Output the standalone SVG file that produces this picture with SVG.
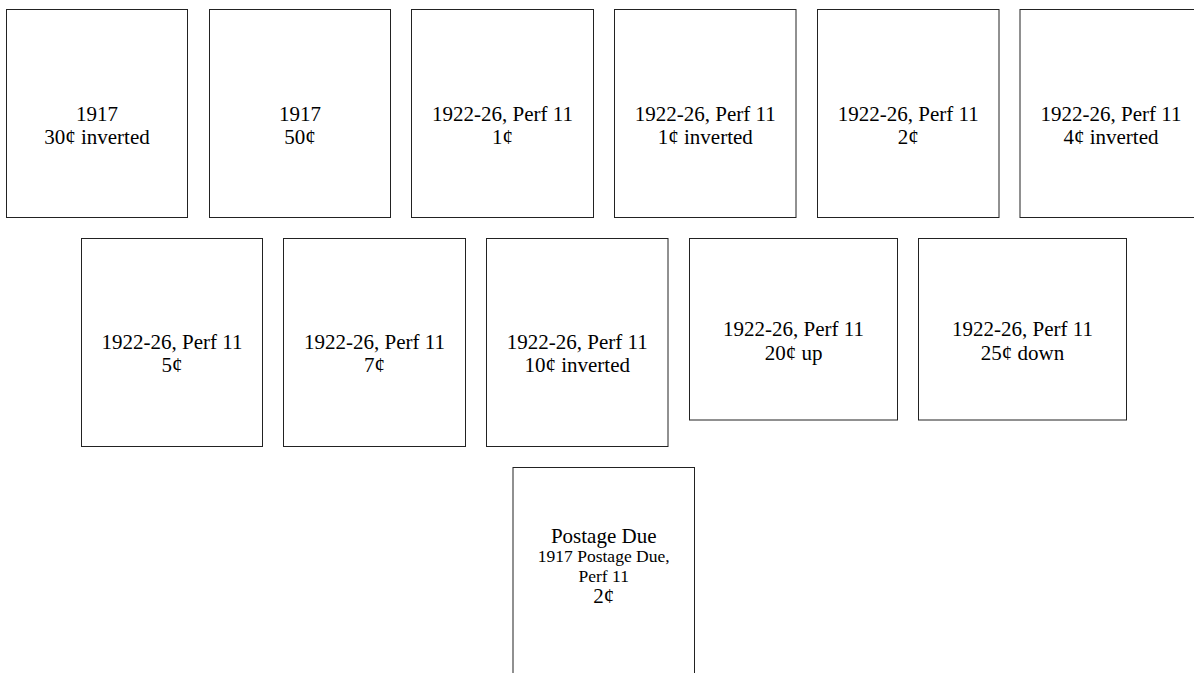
<svg xmlns="http://www.w3.org/2000/svg" width="1194" height="673" viewBox="0 0 1194 673">
<style>
.box{fill:#fff;stroke:#222;stroke-width:1}
text{font-family:"Liberation Serif","Times New Roman",serif;fill:#000;text-anchor:middle}
.t{font-size:21px}
.s{font-size:17.5px}
</style>
<rect width="1194" height="673" fill="#fff"/>
<g id="n1"><rect class="box" x="6.5" y="9.5" width="181" height="208"/><text class="t" x="97" y="120.5">1917</text><text class="t" x="97" y="144">30¢ inverted</text></g>
<g id="n2"><rect class="box" x="209.5" y="9.5" width="181" height="208"/><text class="t" x="300" y="120.5">1917</text><text class="t" x="300" y="144">50¢</text></g>
<g id="n3"><rect class="box" x="411.5" y="9.5" width="182" height="208"/><text class="t" x="502.5" y="120.5">1922-26, Perf 11</text><text class="t" x="502.5" y="144">1¢</text></g>
<g id="n4"><rect class="box" x="614.5" y="9.5" width="181.5" height="208"/><text class="t" x="705.3" y="120.5">1922-26, Perf 11</text><text class="t" x="705.3" y="144">1¢ inverted</text></g>
<g id="n5"><rect class="box" x="817.5" y="9.5" width="181.5" height="208"/><text class="t" x="908.2" y="120.5">1922-26, Perf 11</text><text class="t" x="908.2" y="144">2¢</text></g>
<g id="n6"><rect class="box" x="1020" y="9.5" width="182" height="208"/><text class="t" x="1111" y="120.5">1922-26, Perf 11</text><text class="t" x="1111" y="144">4¢ inverted</text></g>
<g id="n7"><rect class="box" x="81.5" y="238.5" width="181" height="208"/><text class="t" x="172" y="349">1922-26, Perf 11</text><text class="t" x="172" y="372">5¢</text></g>
<g id="n8"><rect class="box" x="283.5" y="238.5" width="182" height="208"/><text class="t" x="374.5" y="349">1922-26, Perf 11</text><text class="t" x="374.5" y="372">7¢</text></g>
<g id="n9"><rect class="box" x="486.5" y="238.5" width="181.5" height="208"/><text class="t" x="577.2" y="349">1922-26, Perf 11</text><text class="t" x="577.2" y="372">10¢ inverted</text></g>
<g id="n10"><rect class="box" x="689.5" y="238.5" width="208" height="181.5"/><text class="t" x="793.5" y="336">1922-26, Perf 11</text><text class="t" x="793.5" y="359.5">20¢ up</text></g>
<g id="n11"><rect class="box" x="918.5" y="238.5" width="208" height="181.5"/><text class="t" x="1022.5" y="336">1922-26, Perf 11</text><text class="t" x="1022.5" y="359.5">25¢ down</text></g>
<g id="n12"><rect class="box" x="513" y="467.5" width="181.5" height="220"/><text class="t" x="603.7" y="542.7">Postage Due</text><text class="s" x="603.7" y="562.3">1917 Postage Due,</text><text class="s" x="603.7" y="582">Perf 11</text><text class="t" x="603.7" y="603">2¢</text></g>
<g id="connectors"></g>
</svg>
